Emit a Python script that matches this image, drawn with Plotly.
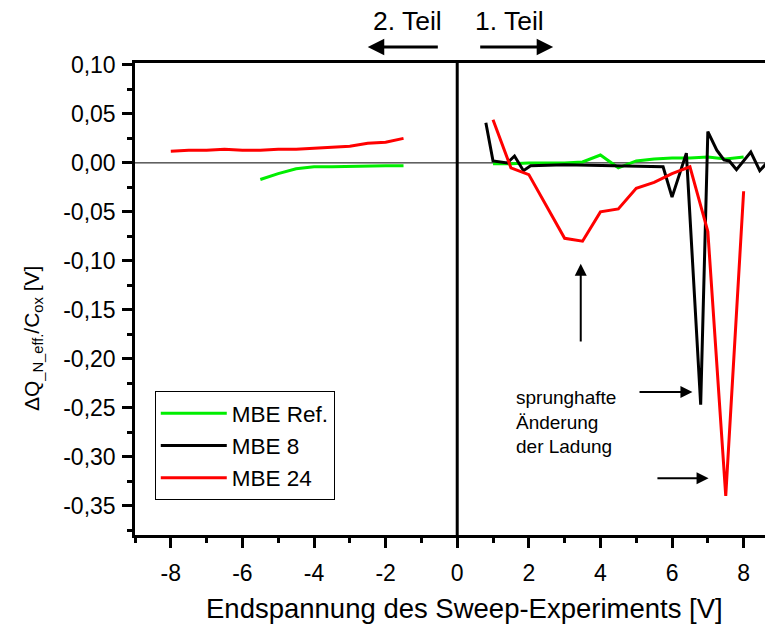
import plotly.graph_objects as go

# ---- data ----
ref_left_x = [-5.5, -5.0, -4.5, -4.0, -3.5, -3.0, -2.5, -2.0, -1.5]
ref_left_y = [-0.017, -0.011, -0.006, -0.004, -0.004, -0.0035, -0.003, -0.003, -0.003]
ref_right_x = [1.0, 1.5, 2.0, 2.5, 3.0, 3.5, 4.0, 4.5, 5.0, 5.5, 6.0, 6.5, 7.0, 7.5, 8.0]
ref_right_y = [-0.001, -0.001, 0.0, 0.0, 0.0, 0.001, 0.008, -0.005, 0.002, 0.004, 0.005, 0.005, 0.006, 0.004, 0.006]

mbe8_x = [0.8, 1.0, 1.4, 1.6, 1.85, 2.05, 3.0, 4.0, 5.0, 5.75, 6.0, 6.4, 6.8, 7.0, 7.25, 7.45, 7.6, 7.8, 8.2, 8.45, 8.7, 8.9]
mbe8_y = [0.041, 0.002, 0.000, 0.007, -0.008, -0.003, -0.002, -0.003, -0.004, -0.004, -0.035, 0.010, -0.247, 0.032, 0.013, 0.003, 0.002, -0.007, 0.011, -0.008, 0.002, 0.003]

mbe24_left_x = [-8.0, -7.5, -7.0, -6.5, -6.0, -5.5, -5.0, -4.5, -4.0, -3.5, -3.0, -2.5, -2.0, -1.5]
mbe24_left_y = [0.012, 0.013, 0.013, 0.014, 0.013, 0.013, 0.014, 0.014, 0.015, 0.016, 0.017, 0.020, 0.021, 0.025]
mbe24_right_x = [1.0, 1.5, 2.0, 3.0, 3.5, 4.0, 4.5, 5.0, 5.5, 6.0, 6.5, 7.0, 7.5, 8.0]
mbe24_right_y = [0.044, -0.005, -0.012, -0.077, -0.080, -0.050, -0.047, -0.026, -0.020, -0.011, -0.004, -0.070, -0.340, -0.029]

x_tickvals = [-8, -6, -4, -2, 0, 2, 4, 6, 8]
x_ticktext = ["-8", "-6", "-4", "-2", "0", "2", "4", "6", "8"]
y_tickvals = [0.10, 0.05, 0.0, -0.05, -0.10, -0.15, -0.20, -0.25, -0.30, -0.35]
y_ticktext = ["0,10", "0,05", "0,00", "-0,05", "-0,10", "-0,15", "-0,20", "-0,25", "-0,30", "-0,35"]

x_title = "Endspannung des Sweep-Experiments [V]"
y_title = "ΔQ<sub>_N_eff.</sub>/C<sub>ox</sub> [V]"

FONT = "Liberation Sans, Arial, sans-serif"
GREEN = "#00EE00"
RED = "#FF0000"
BLACK = "#000000"

fig = go.Figure()

fig.add_trace(go.Scatter(x=ref_left_x, y=ref_left_y, mode="lines", name="MBE Ref.",
                         line=dict(color=GREEN, width=3), legendgroup="ref"))
fig.add_trace(go.Scatter(x=ref_right_x, y=ref_right_y, mode="lines", name="MBE Ref.",
                         line=dict(color=GREEN, width=3), legendgroup="ref", showlegend=False))
fig.add_trace(go.Scatter(x=mbe8_x, y=mbe8_y, mode="lines", name="MBE 8",
                         line=dict(color=BLACK, width=3)))
fig.add_trace(go.Scatter(x=mbe24_left_x, y=mbe24_left_y, mode="lines", name="MBE 24",
                         line=dict(color=RED, width=3), legendgroup="r24"))
fig.add_trace(go.Scatter(x=mbe24_right_x, y=mbe24_right_y, mode="lines", name="MBE 24",
                         line=dict(color=RED, width=3), legendgroup="r24", showlegend=False))

# zero lines
fig.add_shape(type="line", xref="paper", yref="y", x0=0, x1=1, y0=0, y1=0,
              line=dict(color=BLACK, width=1), layer="below")
fig.add_shape(type="line", xref="x", yref="paper", x0=0, x1=0, y0=0, y1=1,
              line=dict(color=BLACK, width=3))

anns = []
# axis titles placed as in the reference
anns.append(dict(x=0.5157, y=-0.1547, xref="paper", yref="paper", xanchor="center", yanchor="middle",
                 text=x_title, showarrow=False, font=dict(size=27.5, color=BLACK, family=FONT)))
anns.append(dict(x=-0.160, y=0.417, xref="paper", yref="paper", xanchor="center", yanchor="middle",
                 textangle=-90, text=y_title, showarrow=False, font=dict(size=21, color=BLACK, family=FONT)))
# top direction labels (above plot area)
anns.append(dict(x=-1.40, y=1.089, xref="x", yref="y domain", yanchor="middle", text="2. Teil",
                 showarrow=False, font=dict(size=26.5, color=BLACK, family=FONT)))
anns.append(dict(x=1.45, y=1.089, xref="x", yref="y domain", yanchor="middle", text="1. Teil",
                 showarrow=False, font=dict(size=26.5, color=BLACK, family=FONT)))
# top arrows
anns.append(dict(x=-2.50, y=1.034, ax=-0.50, ay=1.034, xref="x", yref="y domain", axref="x", ayref="y domain",
                 text="", showarrow=True, arrowhead=2, arrowsize=1.1, arrowwidth=3, arrowcolor=BLACK))
anns.append(dict(x=2.68, y=1.034, ax=0.60, ay=1.034, xref="x", yref="y domain", axref="x", ayref="y domain",
                 text="", showarrow=True, arrowhead=2, arrowsize=1.1, arrowwidth=3, arrowcolor=BLACK))
# vertical arrow
anns.append(dict(x=3.45, y=-0.103, ax=3.45, ay=-0.184, xref="x", yref="y", axref="x", ayref="y",
                 text="", showarrow=True, arrowhead=2, arrowsize=1.2, arrowwidth=2, arrowcolor=BLACK))
# arrows to minima
anns.append(dict(x=6.57, y=-0.234, ax=5.05, ay=-0.234, xref="x", yref="y", axref="x", ayref="y",
                 text="", showarrow=True, arrowhead=2, arrowsize=1.2, arrowwidth=2, arrowcolor=BLACK))
anns.append(dict(x=7.02, y=-0.322, ax=5.55, ay=-0.322, xref="x", yref="y", axref="x", ayref="y",
                 text="", showarrow=True, arrowhead=2, arrowsize=1.2, arrowwidth=2, arrowcolor=BLACK))
# annotation text
anns.append(dict(x=1.58, y=-0.2265, xref="x", yref="y", xanchor="left", yanchor="top", align="left",
                 text="sprunghafte<br>Änderung<br>der Ladung", showarrow=False,
                 font=dict(size=19, color=BLACK, family=FONT)))

# page has an 8px body margin: figure is sized/offset so the plot lands where the reference has it
fig.update_layout(
    width=765, height=617,
    margin=dict(l=127, r=0, t=55, b=90, autoexpand=False),
    paper_bgcolor="white", plot_bgcolor="white",
    font=dict(family=FONT, color=BLACK, size=23),
    showlegend=True,
    legend=dict(x=0.031, y=0.305, xanchor="left", yanchor="top",
                bordercolor=BLACK, borderwidth=1, bgcolor="white",
                font=dict(size=22.5, family=FONT), itemwidth=66,
                tracegroupgap=0),
    annotations=anns,
)

fig.update_xaxes(
    range=[-9, 8.82], showgrid=False, zeroline=False, automargin=False,
    showline=True, linecolor=BLACK, linewidth=2.5, mirror=True,
    tickmode="array", tickvals=x_tickvals, ticktext=x_ticktext,
    ticks="outside", ticklen=10, tickwidth=2.5, tickcolor=BLACK, ticklabelstandoff=6,
    minor=dict(dtick=1, tick0=0, ticks="outside", ticklen=5, tickwidth=2.5, tickcolor=BLACK),
    tickfont=dict(size=23, family=FONT),
)
fig.update_yaxes(
    range=[-0.38, 0.102], showgrid=False, zeroline=False, automargin=False,
    showline=True, linecolor=BLACK, linewidth=2.5,
    tickmode="array", tickvals=y_tickvals, ticktext=y_ticktext,
    ticks="outside", ticklen=10, tickwidth=2.5, tickcolor=BLACK, ticklabelstandoff=2,
    minor=dict(dtick=0.025, tick0=0, ticks="outside", ticklen=5, tickwidth=2.5, tickcolor=BLACK),
    tickfont=dict(size=23, family=FONT),
)

fig.write_html("out.html")
